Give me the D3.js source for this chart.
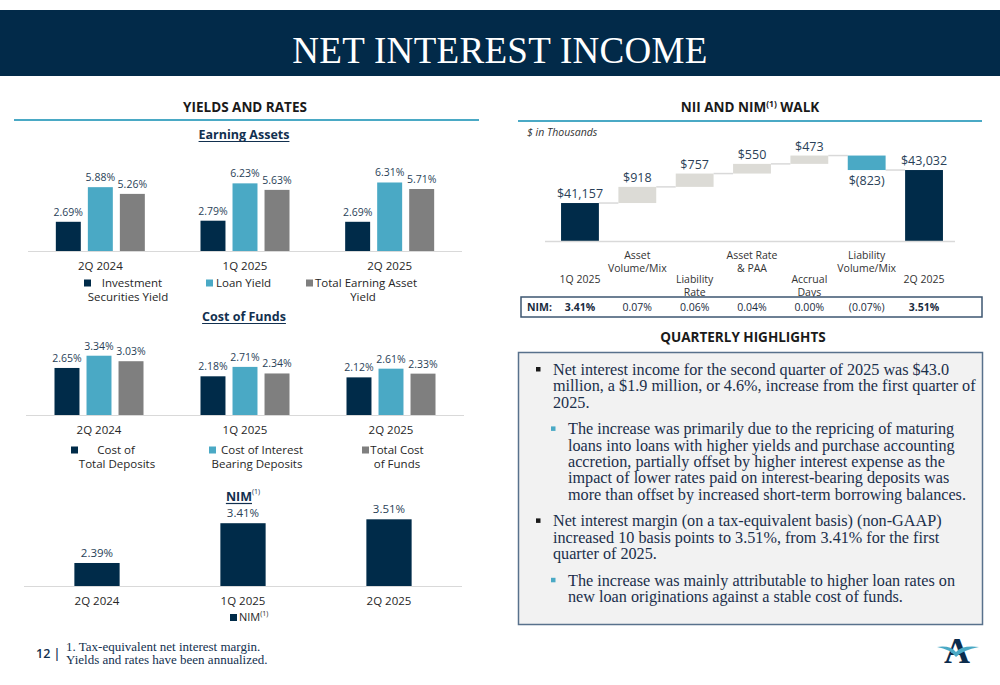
<!DOCTYPE html>
<html>
<head>
<meta charset="utf-8">
<script src="https://cdn.jsdelivr.net/npm/d3@7"></script>
<style>
  html, body { margin: 0; padding: 0; background: #fff; }
  svg { display: block; }
  .sans { font-family: "Open Sans", "Liberation Sans", sans-serif; }
  .serif { font-family: "Liberation Serif", "DejaVu Serif", serif; }
</style>
</head>
<body>
<svg id="chart" width="1000" height="685"></svg>
<script>
// ---------------- DATA ----------------
const quarters = ["2Q 2024", "1Q 2025", "2Q 2025"];

const earningSeries = ["Investment Securities Yield", "Loan Yield", "Total Earning Asset Yield"];
const investmentYield = [2.69, 2.79, 2.69];
const loanYield = [5.88, 6.23, 6.31];
const totalEarningAssetYield = [5.26, 5.63, 5.71];

const fundsSeries = ["Cost of Total Deposits", "Cost of Interest Bearing Deposits", "Total Cost of Funds"];
const costTotalDeposits = [2.65, 2.18, 2.12];
const costInterestBearing = [3.34, 2.71, 2.61];
const totalCostFunds = [3.03, 2.34, 2.33];

const nimValues = [2.39, 3.41, 3.51];

const walkCategories = ["1Q 2025", "Asset Volume/Mix", "Liability Rate", "Asset Rate & PAA", "Accrual Days", "Liability Volume/Mix", "2Q 2025"];
const walkLabelLines = [["1Q 2025"], ["Asset", "Volume/Mix"], ["Liability", "Rate"], ["Asset Rate", "& PAA"], ["Accrual", "Days"], ["Liability", "Volume/Mix"], ["2Q 2025"]];
const walkValues = [41157, 918, 757, 550, 473, -823, 43032];
const walkTypes = ["total", "delta", "delta", "delta", "delta", "delta", "total"];
const walkValueLabels = ["$41,157", "$918", "$757", "$550", "$473", "$(823)", "$43,032"];
const walkNim = ["3.41%", "0.07%", "0.06%", "0.04%", "0.00%", "(0.07%)", "3.51%"];

const highlightBullets = [
  { level: 1, lines: ["Net interest income for the second quarter of 2025 was $43.0", "million, a $1.9 million, or 4.6%, increase from the first quarter of", "2025."] },
  { level: 2, lines: ["The increase was primarily due to the repricing of maturing", "loans into loans with higher yields and purchase accounting", "accretion, partially offset by higher interest expense as the", "impact of lower rates paid on interest-bearing deposits was", "more than offset by increased short-term borrowing balances."] },
  { level: 1, lines: ["Net interest margin (on a tax-equivalent basis) (non-GAAP)", "increased 10 basis points to 3.51%, from 3.41% for the first", "quarter of 2025."] },
  { level: 2, lines: ["The increase was mainly attributable to higher loan rates on", "new loan originations against a stable cost of funds."] }
];

// ---------------- STYLE ----------------
const NAVY = "#002b49";
const TEAL = "#4aa9c5";
const GRAY = "#7f7f7f";
const LIGHT = "#dcdbd6";
const LABEL = "#2a3f58";
const TXT = "#262626";
const seriesColors = [NAVY, TEAL, GRAY];

const svg = d3.select("#chart");

// header
svg.append("rect").attr("x", 0).attr("y", 10).attr("width", 1000).attr("height", 66).attr("fill", "#022a49");
svg.append("text").attr("class", "serif").attr("x", 500).attr("y", 63).attr("text-anchor", "middle")
  .attr("fill", "#fff").attr("font-size", 37).attr("letter-spacing", 0.3).text("NET INTEREST INCOME");

// section headings
function sectionHeading(x, y, lineX1, lineX2, lineY, parts) {
  const t = svg.append("text").attr("class", "sans").attr("x", x).attr("y", y).attr("text-anchor", "middle")
    .attr("font-size", 13.5).attr("font-weight", 700).attr("fill", "#1a1a1a");
  parts.forEach(p => {
    const s = t.append("tspan").text(p.t);
    if (p.sup) s.attr("font-size", 8.5).attr("dy", -5);
    if (p.after) s.attr("dy", 5);
  });
  if (lineX1 != null) {
    svg.append("line").attr("x1", lineX1).attr("x2", lineX2).attr("y1", lineY).attr("y2", lineY)
      .attr("stroke", "#4aa9c5").attr("stroke-width", 2);
  }
}
sectionHeading(245, 112, 14, 479, 120, [{ t: "YIELDS AND RATES" }]);
sectionHeading(750, 112, 518, 982, 121, [{ t: "NII AND NIM" }, { t: "(1)", sup: true }, { t: " WALK", after: true }]);

function underlinedTitle(x, y, text, sup) {
  const t = svg.append("text").attr("class", "sans").attr("x", x).attr("y", y).attr("text-anchor", "middle")
    .attr("font-size", 12.5).attr("font-weight", 700).attr("fill", "#12304f");
  t.append("tspan").text(text);
  if (sup) t.append("tspan").attr("font-size", 7).attr("font-weight", 400).attr("dy", -7).text(sup);
  const tw = t.select("tspan").node().getComputedTextLength();
  const sw = sup ? t.selectAll("tspan").nodes()[1].getComputedTextLength() : 0;
  const startX = x - (tw + sw) / 2;
  svg.append("line").attr("x1", startX).attr("x2", startX + tw).attr("y1", y + 2.5).attr("y2", y + 2.5)
    .attr("stroke", "#12304f").attr("stroke-width", 1.2);
}

// grouped bar chart
function groupedChart(cfg) {
  const x0 = d3.scaleBand().domain(quarters).range([cfg.x1, cfg.x2]).paddingInner(0).paddingOuter(0);
  const x1 = d3.scaleBand().domain(cfg.series).range([-44.5, 44.5]).paddingInner(0.22).paddingOuter(0);
  const y = d3.scaleLinear().domain(cfg.domain).range([cfg.base, cfg.base - cfg.height]);
  const g = svg.append("g");
  const rows = quarters.map((q, i) => ({ q, vals: cfg.values.map((arr, k) => ({ k, s: cfg.series[k], v: arr[i] })) }));
  const grp = g.selectAll("g.grp").data(rows).join("g")
    .attr("transform", d => `translate(${x0(d.q) + x0.bandwidth() / 2},0)`);
  grp.selectAll("rect").data(d => d.vals).join("rect")
    .attr("x", d => x1(d.s)).attr("width", x1.bandwidth())
    .attr("y", d => y(d.v)).attr("height", d => cfg.base - y(d.v))
    .attr("fill", d => seriesColors[d.k]);
  grp.selectAll("text.val").data(d => d.vals).join("text").attr("class", "sans val")
    .attr("x", d => x1(d.s) + x1.bandwidth() / 2).attr("y", d => y(d.v) - 6)
    .attr("text-anchor", "middle").attr("font-size", 10.5).attr("fill", LABEL)
    .text(d => d.v.toFixed(2) + "%");
  g.append("line").attr("x1", cfg.axisX1).attr("x2", cfg.axisX2).attr("y1", cfg.base + 0.5).attr("y2", cfg.base + 0.5)
    .attr("stroke", "#d9d9d9").attr("stroke-width", 1.2);
  const xAxis = d3.axisBottom(x0).tickSize(0).tickPadding(0);
  const ax = g.append("g").attr("transform", `translate(0,${cfg.base})`).call(xAxis);
  ax.select(".domain").remove();
  ax.selectAll("text").attr("font-size", 11.5).attr("fill", TXT).attr("dy", null)
    .attr("y", cfg.catY - cfg.base).style("font-family", '"Open Sans", sans-serif');
  // legend
  cfg.legend.forEach((L, k) => {
    svg.append("rect").attr("x", L.sx).attr("y", L.sy).attr("width", 7).attr("height", 7).attr("fill", seriesColors[k]);
    const t = svg.append("text").attr("class", "sans").attr("font-size", 11.5).attr("fill", TXT);
    L.lines.forEach((ln, j) => t.append("tspan").attr("x", L.lx[j]).attr("y", L.ly + j * 13.5)
      .attr("text-anchor", L.anchors ? L.anchors[j] : "middle").text(ln));
  });
}

underlinedTitle(244, 139, "Earning Assets");
groupedChart({
  series: earningSeries, values: [investmentYield, loanYield, totalEarningAssetYield],
  x1: 28, x2: 462, axisX1: 28, axisX2: 462, base: 251, domain: [0, 7], height: 76, catY: 270,
  legend: [
    { sx: 84, sy: 279.5, lines: ["Investment", "Securities Yield"], lx: [132, 128], ly: 287 },
    { sx: 206, sy: 279.5, lines: ["Loan Yield"], lx: [216], ly: 287, anchors: ["start"] },
    { sx: 306, sy: 279.5, lines: ["Total Earning Asset", "Yield"], lx: [315, 363], ly: 287, anchors: ["start", "middle"] }
  ]
});
underlinedTitle(244, 321, "Cost of Funds");
groupedChart({
  series: fundsSeries, values: [costTotalDeposits, costInterestBearing, totalCostFunds],
  x1: 26, x2: 464, axisX1: 26, axisX2: 464, base: 415, domain: [0, 4], height: 71, catY: 434,
  legend: [
    { sx: 71, sy: 446.5, lines: ["Cost of", "Total Deposits"], lx: [116, 117], ly: 454 },
    { sx: 209, sy: 446.5, lines: ["Cost of Interest", "Bearing Deposits"], lx: [262, 257], ly: 454 },
    { sx: 362, sy: 446.5, lines: ["Total Cost", "of Funds"], lx: [397, 397], ly: 454 }
  ]
});

// NIM chart
underlinedTitle(243, 501, "NIM", "(1)");
(function () {
  const x = d3.scaleBand().domain(quarters).range([24, 462]).paddingInner(0.69).paddingOuter(0.345);
  const y = d3.scaleLinear().domain([1.8, 3.8]).range([586, 508]);
  const g = svg.append("g");
  g.selectAll("rect").data(nimValues).join("rect")
    .attr("x", (d, i) => x(quarters[i])).attr("width", x.bandwidth())
    .attr("y", d => y(d)).attr("height", d => 586 - y(d)).attr("fill", NAVY);
  g.selectAll("text.val").data(nimValues).join("text").attr("class", "sans val")
    .attr("x", (d, i) => x(quarters[i]) + x.bandwidth() / 2).attr("y", d => y(d) - 6)
    .attr("text-anchor", "middle").attr("font-size", 11.5).attr("fill", LABEL).text(d => d.toFixed(2) + "%");
  g.append("line").attr("x1", 24).attr("x2", 462).attr("y1", 586.5).attr("y2", 586.5).attr("stroke", "#d9d9d9").attr("stroke-width", 1.2);
  const ax = g.append("g").attr("transform", "translate(0,586)").call(d3.axisBottom(x).tickSize(0).tickPadding(0));
  ax.select(".domain").remove();
  ax.selectAll("text").attr("font-size", 11.5).attr("fill", TXT).attr("dy", null).attr("y", 19)
    .style("font-family", '"Open Sans", sans-serif');
  svg.append("rect").attr("x", 230).attr("y", 614).attr("width", 7).attr("height", 7).attr("fill", NAVY);
  const t = svg.append("text").attr("class", "sans").attr("x", 239).attr("y", 621).attr("font-size", 11).attr("fill", TXT);
  t.append("tspan").text("NIM");
  t.append("tspan").attr("font-size", 7).attr("dy", -5).text("(1)");
})();

// Waterfall
svg.append("text").attr("class", "sans").attr("x", 527).attr("y", 136).attr("font-size", 10.5)
  .attr("font-style", "italic").attr("fill", "#333").text("$ in Thousands");
(function () {
  const x = d3.scaleBand().domain(walkCategories).range([551.3, 952.7]).paddingInner(0.34).paddingOuter(0.17);
  const base = 241;
  const y = d3.scaleLinear().domain([39000, 44000]).range([base, base - 88]);
  let run = 0;
  const bars = walkValues.map((v, i) => {
    let lo, hi;
    if (walkTypes[i] === "total") { lo = null; hi = v; run = v; }
    else { const start = run; run = start + v; lo = Math.min(start, run); hi = Math.max(start, run); }
    return { c: walkCategories[i], v, lo, hi, end: run, type: walkTypes[i], label: walkValueLabels[i] };
  });
  const g = svg.append("g");
  for (let i = 0; i < bars.length - 1; i++) {
    g.append("line").attr("x1", x(bars[i].c) + x.bandwidth()).attr("x2", x(bars[i + 1].c))
      .attr("y1", y(bars[i].end)).attr("y2", y(bars[i].end)).attr("stroke", "#d9d9d9").attr("stroke-width", 1.5);
  }
  g.selectAll("rect").data(bars).join("rect")
    .attr("x", d => x(d.c)).attr("width", x.bandwidth())
    .attr("y", d => y(d.hi))
    .attr("height", d => d.type === "total" ? base - y(d.hi) : y(d.lo) - y(d.hi))
    .attr("fill", d => d.type === "total" ? NAVY : (d.v < 0 ? TEAL : LIGHT));
  g.selectAll("text.val").data(bars).join("text")
    .attr("x", d => x(d.c) + x.bandwidth() / 2)
    .attr("y", d => d.v < 0 ? y(d.lo) + 15 : y(d.hi) - 5)
    .attr("text-anchor", "middle").attr("font-size", 12.5).attr("fill", LABEL)
    .style("font-family", '"Open Sans", sans-serif').text(d => d.label);
  g.append("line").attr("x1", 545).attr("x2", 955).attr("y1", base + 0.5).attr("y2", base + 0.5).attr("stroke", "#d9d9d9").attr("stroke-width", 1.5);
  walkLabelLines.forEach((lines, i) => {
    const cx = x(walkCategories[i]) + x.bandwidth() / 2;
    const y0 = i % 2 === 0 ? 283 : 259;
    const t = g.append("text").attr("text-anchor", "middle").attr("font-size", 10.5).attr("fill", "#333")
      .style("font-family", '"Open Sans", sans-serif');
    lines.forEach((ln, j) => t.append("tspan").attr("x", cx).attr("y", y0 + j * 12.5).text(ln));
  });
  g.append("rect").attr("x", 521).attr("y", 297).attr("width", 461).attr("height", 20)
    .attr("fill", "#fff").attr("stroke", "#3d5670").attr("stroke-width", 1.5);
  g.append("text").attr("x", 527).attr("y", 311).attr("font-size", 10.5).attr("font-weight", 700).attr("fill", "#1a2b40")
    .style("font-family", '"Open Sans", sans-serif').text("NIM:");
  g.selectAll("text.nim").data(walkNim).join("text").attr("class", "nim")
    .attr("x", (d, i) => x(walkCategories[i]) + x.bandwidth() / 2).attr("y", 311)
    .attr("text-anchor", "middle").attr("font-size", 10.5).attr("fill", "#1a2b40")
    .attr("font-weight", (d, i) => walkTypes[i] === "total" ? 700 : 400)
    .style("font-family", '"Open Sans", sans-serif').text(d => d);
})();

// Quarterly highlights
sectionHeading(743, 342, null, null, null, [{ t: "QUARTERLY HIGHLIGHTS" }]);
svg.append("rect").attr("x", 518.5).attr("y", 352.5).attr("width", 464).attr("height", 272)
  .attr("fill", "#f2f2f2").attr("stroke", "#58718c").attr("stroke-width", 1.5);
(function () {
  const lineH = 16.3;
  let yy = 375;
  highlightBullets.forEach((b) => {
    const tx = b.level === 1 ? 553 : 568;
    const bx = b.level === 1 ? 536 : 551;
    svg.append("rect").attr("x", bx).attr("y", yy - 8).attr("width", 4.5).attr("height", 4.5)
      .attr("fill", b.level === 1 ? "#1a1a1a" : TEAL);
    const t = svg.append("text").attr("class", "serif").attr("font-size", 16.2).attr("fill", "#1b2f4b");
    b.lines.forEach((ln, j) => t.append("tspan").attr("x", tx).attr("y", yy + j * lineH).text(ln));
    yy += b.lines.length * lineH + 10.5;
  });
})();

// footer
svg.append("text").attr("class", "sans").attr("x", 36).attr("y", 658).attr("font-size", 12.5).attr("font-weight", 600)
  .attr("fill", "#12304f").text("12 |");
svg.append("text").attr("class", "serif").attr("x", 66).attr("y", 651).attr("font-size", 13).attr("fill", "#12304f")
  .text("1. Tax-equivalent net interest margin.");
svg.append("text").attr("class", "serif").attr("x", 66).attr("y", 664).attr("font-size", 13).attr("fill", "#12304f")
  .text("Yields and rates have been annualized.");

// logo
svg.append("text").attr("class", "serif").attr("x", 957).attr("y", 663).attr("text-anchor", "middle")
  .attr("font-size", 36).attr("font-weight", 700).attr("fill", "#0c2c4c").text("A");
svg.append("path").attr("d", "M937,647 Q950,645 956,652 Q962,645 979,647 Q963,650 956,657 Q950,649 937,647 Z")
  .attr("fill", TEAL);
</script>
</body>
</html>
